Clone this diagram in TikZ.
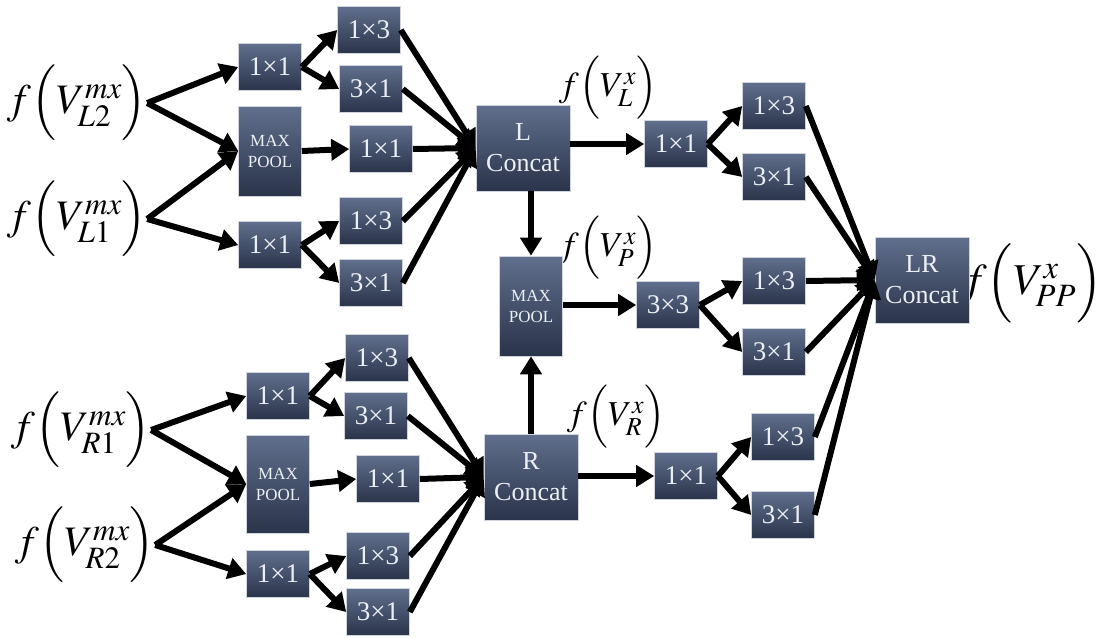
\documentclass[tikz,border=0pt]{standalone}
\usepackage{mathptmx}
\usepackage{fontspec}
\setmainfont{Liberation Serif}
\usetikzlibrary{arrows.meta}
\definecolor{boxtop}{RGB}{96,111,141}
\definecolor{boxbot}{RGB}{42,52,74}
\definecolor{boxtext}{RGB}{236,239,244}
\tikzset{
  blk/.style={draw=white!70!boxtop, line width=0.6pt, top color=boxtop, bottom color=boxbot,
    text=boxtext, inner sep=0pt, minimum width=63pt, minimum height=47pt,
    font=\fontsize{27}{30}\selectfont},
  pool/.style={blk, minimum height=90pt, align=center, font=\fontsize{17}{21}\selectfont},
  cat/.style={blk, minimum width=94pt, minimum height=86pt, align=center, font=\fontsize{26}{31}\selectfont},
  lab/.style={inner sep=0pt, font=\fontsize{42}{50}\selectfont},
  slab/.style={inner sep=0pt, font=\fontsize{35}{42}\selectfont},
  conn/.style={line width=6pt, -{Triangle[length=18pt,width=21pt]}}
}
\begin{document}
\begin{tikzpicture}[x=1pt,y=-1pt]
\useasboundingbox[fill=white] (0,0) rectangle (1097,637);
% labels
\node[lab] (L2) at (77,103) {$f\Bigl(V^{mx}_{L2}\Bigr)$};
\node[lab] (L1) at (77,219) {$f\Bigl(V^{mx}_{L1}\Bigr)$};
\node[lab] (R1) at (81,430) {$f\Bigl(V^{mx}_{R1}\Bigr)$};
\node[lab] (R2) at (85,545) {$f\Bigl(V^{mx}_{R2}\Bigr)$};
\node[slab] (VL) at (608,88) {$f\Bigl(V^{x}_{L}\Bigr)$};
\node[slab] (VP) at (608,248) {$f\Bigl(V^{x}_{P}\Bigr)$};
\node[slab] (VR) at (616,417) {$f\Bigl(V^{x}_{R}\Bigr)$};
\node[inner sep=0pt, font=\fontsize{44}{52}\selectfont] (VPP) at (1032,283) {$f\Bigl(V^{x}_{PP}\Bigr)$};
% upper-left block
\node[blk] (LA1) at (270,67) {1×1};
\node[pool] (LMP) at (270,151) {MAX\\POOL};
\node[blk] (LA3) at (270,245) {1×1};
\node[blk] (L13a) at (369,30) {1×3};
\node[blk] (L31a) at (371,89) {3×1};
\node[blk] (L11m) at (381,149) {1×1};
\node[blk] (L13b) at (371,221) {1×3};
\node[blk] (L31b) at (371,283) {3×1};
\node[cat] (LC) at (523,148) {L\\Concat};
% lower-left block
\node[blk] (RA1) at (278,396) {1×1};
\node[pool, minimum height=98pt] (RMP) at (278,484) {MAX\\POOL};
\node[blk] (RA3) at (278,574) {1×1};
\node[blk] (R13a) at (377,358) {1×3};
\node[blk] (R31a) at (376,416) {3×1};
\node[blk] (R11m) at (388,479) {1×1};
\node[blk] (R13b) at (378,556) {1×3};
\node[blk] (R31b) at (378,612) {3×1};
\node[cat] (RC) at (531,477) {R\\Concat};
% middle
\node[pool, minimum height=100pt] (MPc) at (531,306) {MAX\\POOL};
\node[blk] (U11) at (676,144) {1×1};
\node[blk] (C33) at (668,305) {3×3};
\node[blk] (D11) at (686,476) {1×1};
\node[blk] (U13) at (774,106) {1×3};
\node[blk] (U31) at (774,177) {3×1};
\node[blk] (M13) at (774,281) {1×3};
\node[blk] (M31) at (774,352) {3×1};
\node[blk] (D13) at (783,437) {1×3};
\node[blk] (D31) at (783,515) {3×1};
\node[cat] (LR) at (922,280) {LR\\Concat};
% connectors: inputs
\draw[conn] (L2.east) -- (LA1.west);
\draw[conn] (L2.east) -- (LMP.west);
\draw[conn] (L1.east) -- (LMP.west);
\draw[conn] (L1.east) -- (LA3.west);
\draw[conn] (R1.east) -- (RA1.west);
\draw[conn] (R1.east) -- (RMP.west);
\draw[conn] (R2.east) -- (RMP.west);
\draw[conn] (R2.east) -- (RA3.west);
% upper-left internal
\draw[conn] (LA1.east) -- (L13a.west);
\draw[conn] (LA1.east) -- (L31a.west);
\draw[conn] (LMP.east) -- (L11m.west);
\draw[conn] (LA3.east) -- (L13b.west);
\draw[conn] (LA3.east) -- (L31b.west);
\foreach \n in {L13a,L31a,L11m,L13b,L31b} \draw[conn] (\n.east) -- (LC.west);
% lower-left internal
\draw[conn] (RA1.east) -- (R13a.west);
\draw[conn] (RA1.east) -- (R31a.west);
\draw[conn] (RMP.east) -- (R11m.west);
\draw[conn] (RA3.east) -- (R13b.west);
\draw[conn] (RA3.east) -- (R31b.west);
\foreach \n in {R13a,R31a,R11m,R13b,R31b} \draw[conn] (\n.east) -- (RC.west);
% middle
\draw[conn] (MPc.north |- LC.south) -- (MPc.north);
\draw[conn] (MPc.south |- RC.north) -- (MPc.south);
\draw[conn] (LC.east |- U11) -- (U11.west);
\draw[conn] (MPc.east |- C33) -- (C33.west);
\draw[conn] (RC.east |- D11) -- (D11.west);
\draw[conn] (U11.east) -- (U13.west);
\draw[conn] (U11.east) -- (U31.west);
\draw[conn] (C33.east) -- (M13.west);
\draw[conn] (C33.east) -- (M31.west);
\draw[conn] (D11.east) -- (D13.west);
\draw[conn] (D11.east) -- (D31.west);
\foreach \n in {U13,U31,M13,M31,D13,D31} \draw[conn] (\n.east) -- (LR.west);
\end{tikzpicture}
\end{document}
